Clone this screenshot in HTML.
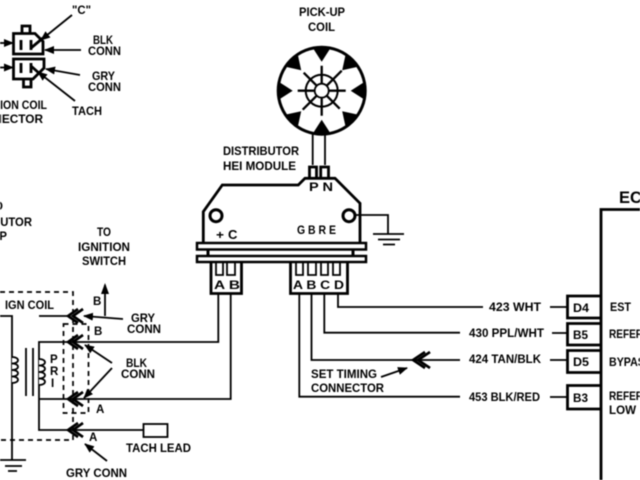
<!DOCTYPE html>
<html><head><meta charset="utf-8"><style>
html,body{margin:0;padding:0;background:#fff;width:640px;height:480px;overflow:hidden}
svg{display:block;filter:blur(.4px)}
text{font-family:"Liberation Sans",sans-serif;font-weight:bold;font-size:11.5px;fill:#000}
.l{fill:none;stroke:#000;stroke-width:1.8}
.t{fill:none;stroke:#000;stroke-width:2.8}
.d{fill:none;stroke:#000;stroke-width:1.7;stroke-dasharray:5 4}
.c{fill:none;stroke:#000;stroke-width:2.6}
</style></head><body>
<svg width="640" height="480" viewBox="0 0 640 480" xmlns="http://www.w3.org/2000/svg">
<defs>
<marker id="a" markerWidth="10" markerHeight="8" refX="9" refY="4" orient="auto" markerUnits="userSpaceOnUse"><path d="M0,0L10,4L0,8Z" fill="#000"/></marker>
</defs>

<!-- ignition connector, top left -->
<path class="t" d="M13.500,33.500H35L43,41.500V54H13.500ZM22,33V26H30V33"/>
<path class="t" d="M13.500,59H44V68L33,79H13.500ZM23.500,79V87H31V79"/>
<path class="t" d="M21,40V50M31,40V50M31,48L43,38M21,63V73M31,63V73M31,66L40,74"/>
<path class="l" d="M0,43H13" marker-end="url(#a)"/>
<path class="l" d="M0,67.500H13" marker-end="url(#a)"/>
<path class="l" d="M72,15L41,40" marker-end="url(#a)"/>
<path class="l" d="M81,50H45" marker-end="url(#a)"/>
<path class="l" d="M80,75L46,69" marker-end="url(#a)"/>
<path class="l" d="M75,101L38,72" marker-end="url(#a)"/>
<text x="72" y="14" textLength="19" lengthAdjust="spacingAndGlyphs">"C"</text>
<text x="93" y="44" textLength="20" lengthAdjust="spacingAndGlyphs">BLK</text>
<text x="88" y="55" textLength="33" lengthAdjust="spacingAndGlyphs">CONN</text>
<text x="92" y="80" textLength="23" lengthAdjust="spacingAndGlyphs">GRY</text>
<text x="88" y="91" textLength="33" lengthAdjust="spacingAndGlyphs">CONN</text>
<text x="72" y="115" textLength="30" lengthAdjust="spacingAndGlyphs">TACH</text>
<text x="-28" y="109" textLength="75" lengthAdjust="spacingAndGlyphs">IGNITION COIL</text>
<text x="-33" y="123" textLength="76" lengthAdjust="spacingAndGlyphs">CONNECTOR</text>

<!-- pick-up coil -->
<text x="299" y="16" textLength="46" lengthAdjust="spacingAndGlyphs">PICK-UP</text>
<text x="308" y="31" textLength="27" lengthAdjust="spacingAndGlyphs">COIL</text>
<g transform="translate(321.700,90.700)">
<circle r="43.500" fill="#fff" stroke="#000" stroke-width="3"/>
<g fill="#000">
<polygon points="-9,-43 9,-43 0,-29"/>
<polygon points="-9,-43 9,-43 0,-29" transform="rotate(45)"/>
<polygon points="-9,-43 9,-43 0,-29" transform="rotate(90)"/>
<polygon points="-9,-43 9,-43 0,-29" transform="rotate(135)"/>
<polygon points="-9,-43 9,-43 0,-29" transform="rotate(180)"/>
<polygon points="-9,-43 9,-43 0,-29" transform="rotate(225)"/>
<polygon points="-9,-43 9,-43 0,-29" transform="rotate(270)"/>
<polygon points="-9,-43 9,-43 0,-29" transform="rotate(315)"/>
</g>
<path stroke="#000" stroke-width="2.300" d="M0,-25V-7M0,7V25M-24,0H-7M7,0H24M-18,-18L-5,-5M5,5L18,18M-19,19L-5,5M5,-5L20,-20"/>
<circle r="16" fill="none" stroke="#000" stroke-width="2"/>
<circle r="7" fill="#fff" stroke="#000" stroke-width="1.800"/>
</g>
<path class="l" d="M312.700,134V165M325,134V165"/>

<!-- module -->
<text x="223" y="155" textLength="76" lengthAdjust="spacingAndGlyphs">DISTRIBUTOR</text>
<text x="223" y="170" textLength="73" lengthAdjust="spacingAndGlyphs">HEI MODULE</text>
<path class="t" d="M309.500,178V167H316.500V178M320.700,178V167H328.500V178"/>
<path class="t" d="M203.300,242V211.700L222.300,185H298.300L305,178.300H335L360,203.300V242"/>
<text x="309" y="191" textLength="24" lengthAdjust="spacingAndGlyphs">P N</text>
<circle cx="216" cy="215.700" r="6" fill="none" stroke="#000" stroke-width="3"/>
<circle cx="349" cy="215.700" r="6" fill="none" stroke="#000" stroke-width="3"/>
<path class="l" d="M355,215H388V234"/>
<path class="l" d="M373,234H404M378,239.500H400M383,244.500H395"/>
<text x="216" y="239" textLength="8" lengthAdjust="spacingAndGlyphs">+</text>
<text x="228" y="239" style="font-size:13px">C</text>
<text x="297" y="234" textLength="39" lengthAdjust="spacingAndGlyphs">G B R E</text>
<rect x="197" y="243" width="169" height="6.500" fill="#fff" stroke="#000" stroke-width="2.500"/>
<rect x="197" y="256" width="169" height="6" fill="#fff" stroke="#000" stroke-width="2.500"/>
<path d="M208,250V255M353,250V255" stroke="#000" stroke-width="3"/>
<path class="t" d="M211,263V293.500H241.500V263M290.500,263V293.500H347.500V263"/>
<path class="l" d="M216,263V275H223V263M227,263V275H235V263M296,263V275H303V263M308,263V275H316V263M321,263V275H328V263M333,263V275H340V263"/>
<text x="214" y="289" textLength="26" lengthAdjust="spacingAndGlyphs">A B</text>
<text x="293" y="289" textLength="51" lengthAdjust="spacingAndGlyphs">A B C D</text>

<!-- wires to ECM -->
<path class="l" d="M218.300,294V342H39V430H143M230.700,294V399H39M39,316H70"/>
<path class="l" d="M338,294V307H483M324.300,294V332.700H460M311.500,294V360H460M299.300,294V396.700H460"/>
<path class="l" d="M550,307H567M552,333H567M550,360H567M550,397H567"/>
<path class="c" d="M425,352L413,360L425,368M430,352L418,360L430,368"/>
<text x="489" y="311" textLength="52" lengthAdjust="spacingAndGlyphs">423 WHT</text>
<text x="469" y="337" textLength="75" lengthAdjust="spacingAndGlyphs">430 PPL/WHT</text>
<text x="469" y="363" textLength="72" lengthAdjust="spacingAndGlyphs">424 TAN/BLK</text>
<text x="469" y="401" textLength="71" lengthAdjust="spacingAndGlyphs">453 BLK/RED</text>
<text x="311" y="378" textLength="66" lengthAdjust="spacingAndGlyphs">SET TIMING</text>
<text x="311" y="392" textLength="73" lengthAdjust="spacingAndGlyphs">CONNECTOR</text>
<path class="l" d="M381,377L407,368" marker-end="url(#a)"/>

<!-- ECM -->
<path class="t" d="M601,480V209.500H640"/>
<text x="619" y="203" style="font-size:16.500px">ECM</text>
<path class="t" d="M601,296H567.500V318H601M601,323.500H567.500V345H601M601,350.500H567.500V372.500H601M601,385.500H567.500V409H601"/>
<text x="573" y="312" textLength="16" lengthAdjust="spacingAndGlyphs">D4</text>
<text x="573" y="339" textLength="15" lengthAdjust="spacingAndGlyphs">B5</text>
<text x="573" y="366" textLength="16" lengthAdjust="spacingAndGlyphs">D5</text>
<text x="573" y="402" textLength="15" lengthAdjust="spacingAndGlyphs">B3</text>
<text x="610" y="311" textLength="21" lengthAdjust="spacingAndGlyphs">EST</text>
<text x="609" y="338" textLength="62" lengthAdjust="spacingAndGlyphs">REFERENCE</text>
<text x="609" y="366" textLength="43" lengthAdjust="spacingAndGlyphs">BYPASS</text>
<text x="609" y="400" textLength="62" lengthAdjust="spacingAndGlyphs">REFERENCE</text>
<text x="609" y="414" textLength="27" lengthAdjust="spacingAndGlyphs">LOW</text>

<!-- left side -->
<text x="3" y="210" text-anchor="end">TO</text>
<text x="-45" y="226" textLength="77" lengthAdjust="spacingAndGlyphs">DISTRIBUTOR</text>
<text x="-17" y="240" textLength="24" lengthAdjust="spacingAndGlyphs">CAP</text>
<text x="97" y="236" textLength="14" lengthAdjust="spacingAndGlyphs">TO</text>
<text x="78" y="251" textLength="52" lengthAdjust="spacingAndGlyphs">IGNITION</text>
<text x="82" y="265" textLength="44" lengthAdjust="spacingAndGlyphs">SWITCH</text>
<path class="d" d="M0,292H73V440H0"/>
<rect class="d" x="63.500" y="324" width="25" height="89"/>
<text x="5" y="309" textLength="49" lengthAdjust="spacingAndGlyphs">IGN COIL</text>
<path class="l" d="M0,316H12V460"/>
<path class="l" d="M0,460H26M5,466H22M8,471H17"/>
<path fill="#fff" stroke="#000" stroke-width="1.800" d="M12,357c8,0 8,6.500 0,6.500c8,0 8,6.500 0,6.500c8,0 8,6.500 0,6.500c8,0 8,6.500 0,6.500"/>
<path fill="#fff" stroke="#000" stroke-width="1.800" d="M39,359c8,0 8,6.500 0,6.500c8,0 8,6.500 0,6.500c8,0 8,6.500 0,6.500c8,0 8,6.500 0,6.500"/>
<path class="l" d="M26,348V396M33,348V396"/>
<text x="50" y="363">P</text>
<text x="50" y="375">R</text>
<text x="51" y="387">I</text>
<path class="c" d="M78,309L68,316L78,323M83,309L73,316L83,323"/>
<path class="c" d="M78,335L68,342L78,349M83,335L73,342L83,349"/>
<path class="c" d="M78,392L68,399L78,406M83,392L73,399L83,406"/>
<path class="c" d="M78,423L68,430L78,437M83,423L73,430L83,437"/>
<path class="l" d="M105,316V285"/>
<path d="M105,283L101,294H109Z" fill="#000"/>
<path class="l" d="M123,319L84,316" marker-end="url(#a)"/>
<path class="l" d="M112,363L85,345" marker-end="url(#a)"/>
<path class="l" d="M112,368L84,398" marker-end="url(#a)"/>
<path class="l" d="M107,461L85,444" marker-end="url(#a)"/>
<rect x="143.500" y="424" width="24" height="13" fill="#fff" stroke="#000" stroke-width="1.800"/>
<text x="93" y="305">B</text>
<text x="94" y="335">B</text>
<text x="96" y="413">A</text>
<text x="89" y="441">A</text>
<text x="131" y="322" textLength="24" lengthAdjust="spacingAndGlyphs">GRY</text>
<text x="127" y="333" textLength="34" lengthAdjust="spacingAndGlyphs">CONN</text>
<text x="126" y="367" textLength="21" lengthAdjust="spacingAndGlyphs">BLK</text>
<text x="121" y="378" textLength="34" lengthAdjust="spacingAndGlyphs">CONN</text>
<text x="126" y="452" textLength="65" lengthAdjust="spacingAndGlyphs">TACH LEAD</text>
<text x="66" y="477" textLength="61" lengthAdjust="spacingAndGlyphs">GRY CONN</text>
</svg>
</body></html>
